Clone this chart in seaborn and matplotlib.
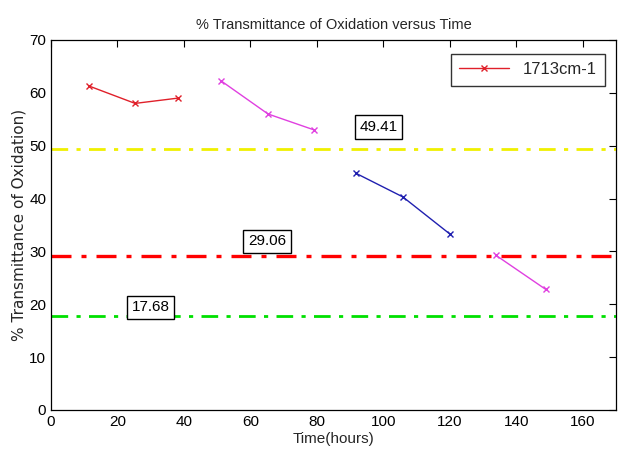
import matplotlib
matplotlib.use("Agg")
import matplotlib.pyplot as plt
import seaborn as sns
import pandas as pd
from matplotlib import font_manager

# Measurement segments (time in hours, % transmittance)
seg_a_time = [11.4, 25.3, 38.2]
seg_a_val = [61.3, 58.0, 59.0]
seg_b_time = [51.1, 65.3, 79.1]
seg_b_val = [62.3, 56.0, 53.0]
seg_c_time = [91.7, 105.9, 120.0]
seg_c_val = [44.8, 40.3, 33.3]
seg_d_time = [133.8, 148.9]
seg_d_val = [29.3, 22.8]
segment_names = ["A", "B", "C", "D"]
segment_colors = ["#e0202a", "#e040e0", "#2020b0", "#e040e0"]

# Reference levels
levels = [49.41, 29.06, 17.68]
level_labels = ["49.41", "29.06", "17.68"]
level_colors = ["#f0f000", "#ff0000", "#00e000"]
level_widths = [2.0, 2.4, 2.0]
label_pos = [(98.5, 52.2), (65.0, 30.6), (30.0, 18.1)]

legend_label = "1713cm-1"

sns.set_theme(style="white")
names = [f.name for f in font_manager.fontManager.ttflist]
narrow = "Liberation Sans Narrow" if "Liberation Sans Narrow" in names else "Liberation Sans"
plt.rcParams["font.family"] = [narrow, "DejaVu Sans"]

df = pd.concat([
    pd.DataFrame({"time": t, "val": v, "seg": n})
    for t, v, n in zip([seg_a_time, seg_b_time, seg_c_time, seg_d_time],
                       [seg_a_val, seg_b_val, seg_c_val, seg_d_val],
                       segment_names)
])

fig = plt.figure(figsize=(6.19, 4.57), dpi=100)
ax = fig.add_axes([0.0824, 0.103, 0.9126, 0.8095])

sns.lineplot(data=df, x="time", y="val", hue="seg", units="seg", estimator=None,
             palette=dict(zip(segment_names, segment_colors)), marker="x",
             markersize=5, markeredgewidth=1.0, linewidth=1.0, ax=ax, legend=False,
             sort=False)
data_lines = list(ax.get_lines())
for ln in data_lines:
    ln.set_markeredgecolor(ln.get_color())
    ln.set_markerfacecolor(ln.get_color())

for lv, lab, col, lw, (tx, ty) in zip(levels, level_labels, level_colors, level_widths, label_pos):
    ax.axhline(lv, color=col, linestyle=(0, (6, 3, 1.5, 3)), linewidth=lw, zorder=1)
    ax.text(tx, ty, lab, fontsize=11, ha="center", va="bottom", color="black",
            bbox=dict(boxstyle="square,pad=0.3", facecolor="white", edgecolor="black", linewidth=1.0))

ax.set_xlim(0, 170)
ax.set_ylim(0, 70)
ax.set_xticks(range(0, 161, 20))
ax.set_yticks(range(0, 71, 10))
ax.tick_params(direction="in", length=5, top=True, right=True, labelsize=11,
               colors="black", width=0.8)
for s in ax.spines.values():
    s.set_visible(True)
    s.set_color("black")
    s.set_linewidth(0.9)

ax.set_title("% Transmittance of Oxidation versus Time", fontsize=10.5, pad=8)
ax.set_xlabel("Time(hours)", fontsize=11, labelpad=2)
ax.set_ylabel("% Transmittance of Oxidation)", fontsize=11, family="DejaVu Sans", labelpad=2)

h = data_lines[0]
leg = ax.legend([h], [legend_label], loc="upper right", fontsize=12, frameon=True,
                fancybox=False, edgecolor="black", handlelength=3.0,
                borderpad=0.5, bbox_to_anchor=(0.995, 0.985))
leg.get_frame().set_linewidth(1.0)

fig.savefig("out.png", dpi=100)
